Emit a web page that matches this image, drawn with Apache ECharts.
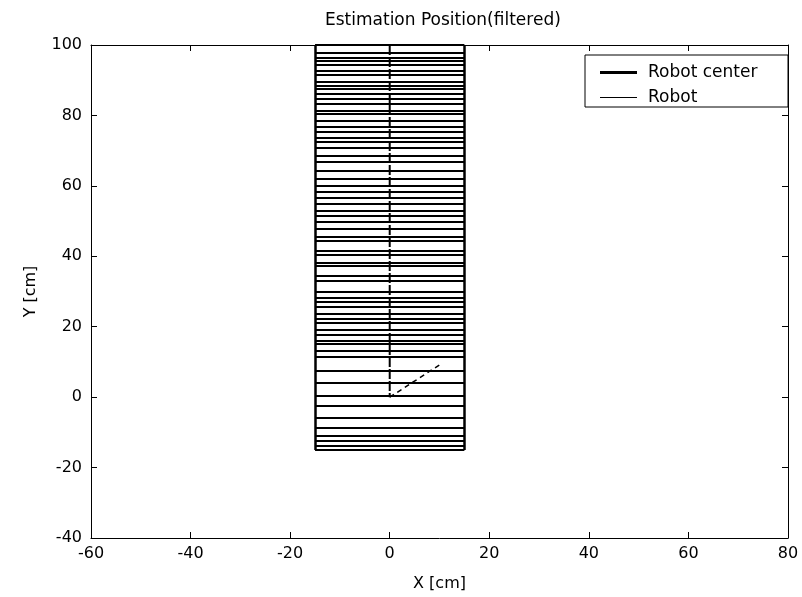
<!DOCTYPE html>
<html><head><meta charset="utf-8">
<script src="https://cdn.jsdelivr.net/npm/echarts@6/dist/echarts.min.js"></script>
<style>html,body{margin:0;padding:0;background:#fff}#c{width:802px;height:597px}</style>
</head><body><div id="c"></div>
<script>
// ---- data ----
const chartTitle = 'Estimation Position(filtered)';
const xName = 'X [cm]';
const yName = 'Y [cm]';
const xRange = [-60, 80];
const yRange = [-40, 100];
const tickStep = 20;
const robotLeftX = -15;
const robotRightX = 15;
const robotBottomY = -15;
const robotTopY = 100;
const robotLineY = [100, 97.7, 96.3, 95.5, 94.3, 92.6, 91.5, 89.5, 88.4, 87.5, 86.1, 84.7, 83.3, 81.3, 80.5,
  78.5, 76.8, 75.4, 73.7, 72.5, 70.8, 68.6, 66.9, 64.3, 62.0, 60.1, 58.4, 56.7, 55.0, 53.0, 51.6, 49.9,
  47.9, 45.6, 44.5, 41.6, 40.5, 38.2, 37.4, 34.6, 33.1, 30.0, 28.3, 27.2, 25.8, 23.8, 22.4, 21.0, 19.0,
  17.6, 16.1, 15.3, 13.3, 11.6, 7.6, 4.0, 0.3, -2.5, -5.9, -8.8, -11.0, -12.5, -13.8, -15];
const centerPathX = [0, 0];
const centerPathY = [100, 0];
const headingX = [0, 10.5];
const headingY = [0, 9.6];

// ---- build ----
const FONT = 'DejaVu Sans';
const robotSegments = robotLineY.map(y => ({coords: [[robotLeftX, y], [robotRightX, y]]}));
robotSegments.push({coords: [[robotLeftX, robotBottomY], [robotLeftX, robotTopY]], lineStyle: {width: 2.5}});
robotSegments.push({coords: [[robotRightX, robotBottomY], [robotRightX, robotTopY]], lineStyle: {width: 2.5}});

const axisCommon = {
  type: 'value', splitLine: {show: false},
  axisLine: {show: true, onZero: false, lineStyle: {color: '#000', width: 1}},
  axisTick: {show: true, inside: true, length: 6, lineStyle: {color: '#000'}}
};

const chart = echarts.init(document.getElementById('c'));
chart.setOption({
  backgroundColor: '#fff',
  animation: false,
  title: {text: chartTitle, left: 320, top: 7,
    textStyle: {fontFamily: FONT, fontSize: 17, fontWeight: 'normal', color: '#000'}},
  grid: {left: 91, right: 14, top: 45, bottom: 58},
  xAxis: [
    Object.assign({}, axisCommon, {min: xRange[0], max: xRange[1], interval: tickStep, position: 'bottom',
      name: xName, nameLocation: 'middle', nameGap: 38,
      nameTextStyle: {fontFamily: FONT, fontSize: 16, color: '#000'},
      axisLabel: {margin: 8, fontFamily: FONT, fontSize: 16, color: '#000'}}),
    Object.assign({}, axisCommon, {min: xRange[0], max: xRange[1], interval: tickStep, position: 'top',
      axisLabel: {show: false}})
  ],
  yAxis: [
    Object.assign({}, axisCommon, {min: yRange[0], max: yRange[1], interval: tickStep, position: 'left',
      name: yName, nameLocation: 'middle', nameGap: 52, nameRotate: 90,
      nameTextStyle: {fontFamily: FONT, fontSize: 16, color: '#000'},
      axisLabel: {margin: 9, fontFamily: FONT, fontSize: 16, color: '#000'}}),
    Object.assign({}, axisCommon, {min: yRange[0], max: yRange[1], interval: tickStep, position: 'right',
      axisLabel: {show: false}})
  ],
  graphic: [{type: 'rect', z: 3, shape: {x: 585, y: 55, width: 203, height: 52},
    style: {fill: '#fff', stroke: '#000', lineWidth: 1}}],
  legend: [
    {data: [{name: 'Robot center', icon: 'rect', itemStyle: {color: '#000', borderWidth: 0}}], left: 595, top: 59, z: 10,
      itemWidth: 37, itemHeight: 3, selectedMode: false,
      itemStyle: {borderWidth: 0},
      textStyle: {fontFamily: FONT, fontSize: 17, color: '#000', padding: [0, 0, 0, 6]}},
    {data: [{name: 'Robot', icon: 'rect', itemStyle: {color: '#000', borderWidth: 0}}], left: 595, top: 84, z: 10,
      itemWidth: 37, itemHeight: 1, selectedMode: false,
      itemStyle: {borderWidth: 0},
      textStyle: {fontFamily: FONT, fontSize: 17, color: '#000', padding: [0, 0, 0, 6]}}
  ],
  series: [
    {name: 'Robot', type: 'lines', coordinateSystem: 'cartesian2d', xAxisIndex: 0, yAxisIndex: 0,
      polyline: false, silent: true, z: 2,
      lineStyle: {color: '#000', width: 1.8, opacity: 1},
      data: robotSegments},
    {name: 'Robot center', type: 'line', xAxisIndex: 0, yAxisIndex: 0, symbol: 'none', z: 3,
      lineStyle: {color: '#000', width: 2, type: [10, 2]},
      data: centerPathX.map((x, i) => [x, centerPathY[i]])},
    {name: 'Robot center', type: 'line', xAxisIndex: 0, yAxisIndex: 0, symbol: 'none', z: 3,
      lineStyle: {color: '#000', width: 1.5, type: [5, 4]},
      data: headingX.map((x, i) => [x, headingY[i]])}
  ]
});
</script></body></html>
